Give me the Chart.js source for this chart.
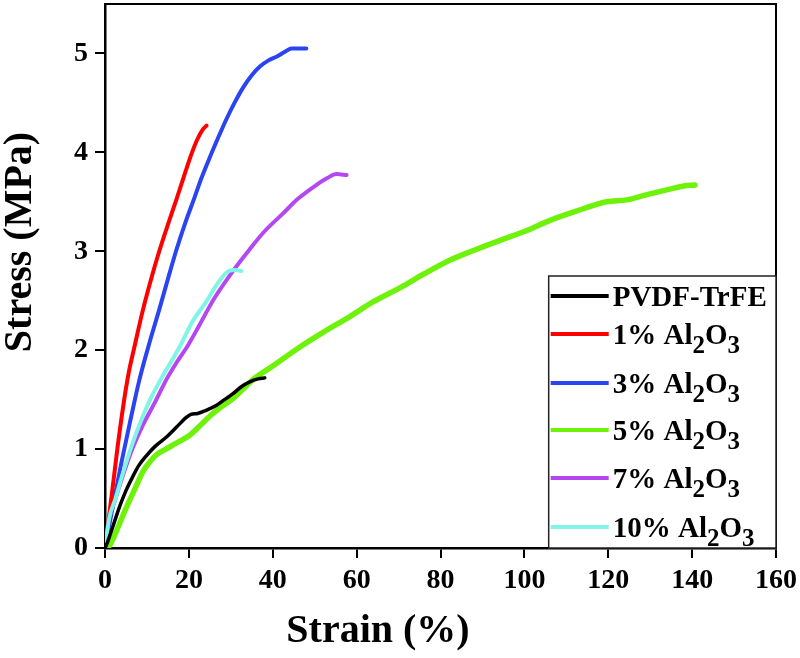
<!DOCTYPE html>
<html>
<head>
<meta charset="utf-8">
<script src="https://cdn.jsdelivr.net/npm/chart.js@4/dist/chart.umd.min.js"></script>
<style>
html,body{margin:0;padding:0;background:#fff;}
#wrap{width:800px;height:658px;}
</style>
</head>
<body>
<div id="wrap"><canvas id="c" width="800" height="658"></canvas></div>
<script>
// ---- data ----
const seriesLabels = ["PVDF-TrFE", "1% Al2O3", "3% Al2O3", "5% Al2O3", "7% Al2O3", "10% Al2O3"];

const pvdfX = [0, 0.6, 1.9, 3.5, 5, 6.6, 8, 9.8, 12, 14.6, 17, 19.4, 20.5, 22.1, 24, 26.5, 28.5, 30.5, 32.5, 34.5, 36.5, 38.1];
const pvdfY = [0, 0.06, 0.22, 0.42, 0.58, 0.72, 0.83, 0.93, 1.03, 1.12, 1.22, 1.32, 1.35, 1.36, 1.39, 1.44, 1.5, 1.56, 1.63, 1.68, 1.71, 1.72];

const al1X = [0, 1.5, 3, 4.4, 5.6, 7, 9, 11, 13, 15, 17, 19, 20.5, 22, 23.3, 24.2];
const al1Y = [0, 0.5, 1.02, 1.45, 1.76, 2.03, 2.40, 2.72, 3.01, 3.27, 3.52, 3.78, 3.97, 4.13, 4.23, 4.27];

const al3X = [0, 2, 3.9, 6, 8.2, 10.5, 13, 15, 17, 19, 21.4, 23, 25, 27, 29, 31, 33, 35, 37, 39, 41, 43, 44.5, 46, 48];
const al3Y = [0, 0.45, 0.86, 1.28, 1.70, 2.06, 2.42, 2.72, 3.01, 3.27, 3.55, 3.74, 3.95, 4.15, 4.34, 4.51, 4.66, 4.78, 4.87, 4.93, 4.97, 5.02, 5.05, 5.05, 5.05];

const al5X = [0, 1, 2, 3.5, 5, 6.6, 8, 9, 10.5, 12.2, 14.5, 17, 20.2, 22.5, 24.9, 27.5, 30.5, 33, 35.2, 40, 46.4, 52, 58.4, 64, 70.3, 76, 82.2, 88, 94.2, 100, 106, 112, 119.6, 124.4, 129, 133.9, 138, 140.7];
const al5Y = [0, 0.02, 0.1, 0.25, 0.4, 0.55, 0.68, 0.77, 0.86, 0.94, 1.0, 1.06, 1.14, 1.23, 1.33, 1.42, 1.51, 1.61, 1.70, 1.84, 2.03, 2.18, 2.34, 2.49, 2.63, 2.77, 2.91, 3.01, 3.11, 3.20, 3.31, 3.40, 3.50, 3.52, 3.57, 3.62, 3.66, 3.67];

const al7X = [0, 1, 2.5, 4, 6.5, 9, 12, 14.6, 17, 19.8, 22.6, 26, 30.5, 34.5, 38, 42.4, 46, 50.4, 53, 55.2, 57.6];
const al7Y = [0, 0.28, 0.5, 0.7, 1.0, 1.24, 1.48, 1.70, 1.87, 2.05, 2.26, 2.52, 2.80, 3.02, 3.20, 3.38, 3.53, 3.67, 3.74, 3.78, 3.77];

const al10X = [0, 1, 2.5, 4, 6.5, 9, 11, 13.5, 16, 18, 21, 24, 26, 28, 29.5, 31, 32.5];
const al10Y = [0, 0.3, 0.5, 0.72, 1.05, 1.33, 1.52, 1.72, 1.9, 2.05, 2.3, 2.48, 2.62, 2.74, 2.8, 2.81, 2.80];

const xTicks = [0, 20, 40, 60, 80, 100, 120, 140, 160];
const yTicks = [0, 1, 2, 3, 4, 5];
const xTitle = "Strain (%)";
const yTitle = "Stress (MPa)";

// ---- styles ----
const colors = ["#000000", "#ff0000", "#2a44f2", "#6ef20a", "#b447f2", "#80f4e6"];
const widths = [3.5, 4, 4, 5.5, 4, 4];
const drawOrder = [0, 2, 3, 5, 4, 1];
const FONT = '"Liberation Serif", "Times New Roman", serif';

function pts(xs, ys) { return xs.map((x, i) => ({x: x, y: ys[i]})); }
const allX = [pvdfX, al1X, al3X, al5X, al7X, al10X];
const allY = [pvdfY, al1Y, al3Y, al5Y, al7Y, al10Y];

const datasets = seriesLabels.map((lab, i) => ({
  label: lab,
  data: pts(allX[i], allY[i]),
  borderColor: colors[i],
  backgroundColor: colors[i],
  borderWidth: widths[i],
  pointRadius: 0,
  cubicInterpolationMode: 'monotone',
  fill: false,
  order: drawOrder[i],
  borderCapStyle: 'round',
  borderJoinStyle: 'round'
}));

// draw text with subscripts: digits right after a letter are subscripts
function drawRich(ctx, text, x, y, size) {
  const parts = text.split(/(?<=[A-Za-z])(\d)/);
  let cx = x;
  parts.forEach((p, idx) => {
    if (!p) return;
    const sub = idx % 2 === 1;
    ctx.font = 'bold ' + (sub ? Math.round(size * 0.86) : size) + 'px ' + FONT;
    ctx.fillText(p, cx, sub ? y + 9 : y);
    cx += ctx.measureText(p).width;
  });
}

const framePlugin = {
  id: 'frame',
  afterDatasetsDraw(chart) {
    const {ctx, chartArea: a} = chart;
    ctx.save();
    ctx.strokeStyle = '#000';
    ctx.lineWidth = 2;
    ctx.beginPath();
    ctx.moveTo(a.left, a.top); ctx.lineTo(a.right, a.top); ctx.lineTo(a.right, a.bottom);
    ctx.stroke();
    // legend box
    const bx = chart.scales.x.getPixelForValue(105.8);
    const by = chart.scales.y.getPixelForValue(2.75);
    ctx.fillStyle = '#fff';
    ctx.fillRect(bx, by, a.right - bx, a.bottom - by);
    ctx.lineWidth = 1.5;
    ctx.strokeStyle = '#222';
    ctx.strokeRect(bx, by, a.right - bx, a.bottom - by);
    const rowOff = [20, 58, 107, 154, 202, 251];
    chart.data.datasets.forEach((ds, i) => {
      const ly = by + rowOff[i];
      ctx.strokeStyle = ds.borderColor;
      ctx.lineWidth = 4;
      ctx.lineCap = 'butt';
      ctx.beginPath();
      ctx.moveTo(bx + 2, ly); ctx.lineTo(bx + 60, ly);
      ctx.stroke();
      ctx.fillStyle = '#000';
      ctx.textBaseline = 'alphabetic';
      ctx.textAlign = 'left';
      drawRich(ctx, ds.label, bx + 64, ly + 10, 29);
    });
    ctx.restore();
  },
  afterDraw(chart) {
    const {ctx} = chart;
    ctx.save();
    ctx.fillStyle = '#000';
    ctx.font = 'bold 40px ' + FONT;
    ctx.textAlign = 'center';
    ctx.textBaseline = 'middle';
    ctx.fillText(xTitle, 378, 632);
    ctx.translate(21, 242);
    ctx.rotate(-Math.PI / 2);
    ctx.fillText(yTitle, 0, 0);
    ctx.restore();
  }
};

new Chart(document.getElementById('c'), {
  type: 'line',
  data: {datasets: datasets},
  plugins: [framePlugin],
  options: {
    responsive: false,
    animation: false,
    layout: {padding: {top: 4, right: 24, left: 0, bottom: 0}},
    plugins: {legend: {display: false}, tooltip: {enabled: false}},
    scales: {
      x: {
        type: 'linear',
        min: 0, max: 160,
        afterFit: s => { s.height = 110; s.paddingLeft = 0; s.paddingRight = 0; },
        afterBuildTicks: s => { s.ticks = xTicks.map(v => ({value: v})); },
        grid: {display: true, drawOnChartArea: false, drawTicks: true, tickLength: 10, color: '#000', lineWidth: 2},
        border: {display: true, color: '#000', width: 2.5},
        ticks: {color: '#000', padding: 6, font: {family: FONT, size: 28, weight: 'bold'}, maxRotation: 0}
      },
      y: {
        type: 'linear',
        min: 0, max: 5.5,
        afterFit: s => { s.width = 105; s.paddingTop = 0; s.paddingBottom = 0; },
        afterBuildTicks: s => { s.ticks = yTicks.map(v => ({value: v})); },
        grid: {display: true, drawOnChartArea: false, drawTicks: true, tickLength: 10, color: '#000', lineWidth: 2},
        border: {display: true, color: '#000', width: 2.5},
        ticks: {color: '#000', padding: 7, font: {family: FONT, size: 28, weight: 'bold'}}
      }
    }
  }
});
</script>
</body>
</html>
